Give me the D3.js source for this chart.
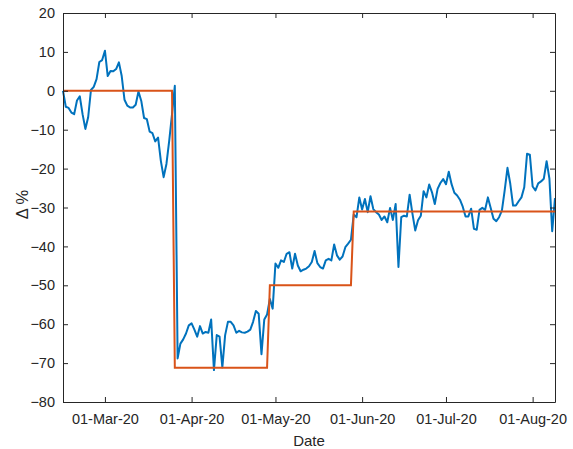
<!DOCTYPE html>
<html>
<head>
<meta charset="utf-8">
<script src="https://d3js.org/d3.v7.min.js"></script>
<style>
  body { margin: 0; background: #fff; }
  text { font-family: "Liberation Sans", Arial, sans-serif; fill: #262626; }
</style>
</head>
<body>
<div id="chart"></div>
<script>
// daily series, first value on 15-Feb-2020
var blueStart = "2020-02-15";
var blueValues = [
  0, -4.1, -4.4, -5.6, -6, -2.5, -1.4, -6, -9.8, -6.8,
  0.2, 1, 3, 7.4, 7.9, 10.3, 3.8, 5.1, 5, 5.6,
  7.3, 3.8, -2.3, -3.8, -4.3, -4.3, -3.6, -0.2, -2.6, -7,
  -7.3, -10.5, -10.9, -13, -12, -18, -22.2, -18.8, -12.8, -6,
  1.3, -68.8, -65, -63.9, -62.4, -60.3, -59.8, -61.4, -63.2, -60.5,
  -62.4, -62, -62.2, -58.8, -71.8, -62.8, -63.2, -71.1, -62.8, -59.4,
  -59.4, -60.3, -62.2, -61.7, -62.1, -62.2, -61.9, -61.4, -59.4, -56.6,
  -57.3, -67.7, -58.8, -57.5, -53.5, -56, -44.4, -45.5, -43.6, -44,
  -41.9, -41.5, -45.7, -41.9, -44.9, -46.4, -46, -45.7, -45.1, -44,
  -41.2, -44.3, -45.3, -45.7, -43.6, -43.2, -43.6, -39.5, -42.3, -43.4,
  -42.6, -40.2, -39.3, -38.3, -31.8, -32.5, -27.4, -30.5, -27.8, -31.2,
  -27.1, -30.4, -31.2, -31.8, -33.2, -32.3, -33.8, -30.1, -33.2, -29.1,
  -45.3, -32.5, -32.1, -32.3, -26.7, -31.6, -35.9, -33.3, -32.1, -25.8,
  -27.4, -24.1, -26.1, -29.1, -25.2, -23.7, -22.7, -24, -20.8, -24,
  -26.2, -26.9, -28, -29.8, -32.3, -32.3, -30.3, -35.5, -35.7, -30.6,
  -30.1, -30.6, -27.4, -30.1, -32.9, -33.5, -32.5, -30.8, -25.6, -19.8,
  -23.9, -29.5, -29.5, -28.4, -27.4, -24.8, -16.2, -16.4, -24.6, -25.6,
  -23.8, -23.3, -22.6, -18.1, -22.6, -36.1, -27.6
];

// step line vertices
var stepDates = ["2020-02-15", "2020-03-25", "2020-03-26", "2020-04-28",
                 "2020-04-29", "2020-05-28", "2020-05-29", "2020-08-09"];
var stepValues = [0, 0, -71.2, -71.2, -50, -50, -31, -31];

var xTickDates = ["2020-03-01", "2020-04-01", "2020-05-01", "2020-06-01", "2020-07-01", "2020-08-01"];
var yTicks = [-80, -70, -60, -50, -40, -30, -20, -10, 0, 10, 20];

var parse = d3.timeParse("%Y-%m-%d");
var fmt = d3.timeFormat("%d-%b-%y");

var width = 573, height = 449;
var margin = {top: 13, right: 18, bottom: 47, left: 63};
var w = width - margin.left - margin.right,
    h = height - margin.top - margin.bottom;

var svg = d3.select("#chart")
  .append("svg")
  .attr("width", width)
  .attr("height", height);

var g = svg.append("g")
  .attr("transform", "translate(" + margin.left + "," + margin.top + ")");

var t0 = parse(blueStart);
var blue = blueValues.map(function(v, i) { return {date: d3.timeDay.offset(t0, i), value: v}; });
var steps = stepDates.map(function(d, i) { return {date: parse(d), value: stepValues[i]}; });

var x = d3.scaleTime()
  .domain([t0, parse(stepDates[stepDates.length - 1])])
  .range([0, w]);

var y = d3.scaleLinear()
  .domain([-80, 20])
  .range([h, 0]);

var line = d3.line()
  .x(function(d) { return x(d.date); })
  .y(function(d) { return y(d.value); });

g.append("path")
  .datum(blue)
  .attr("fill", "none")
  .attr("stroke", "#0072BD")
  .attr("stroke-width", 2)
  .attr("stroke-linejoin", "round")
  .attr("d", line);

g.append("path")
  .datum(steps)
  .attr("fill", "none")
  .attr("stroke", "#D95319")
  .attr("stroke-width", 2)
  .attr("d", line);

// axes, MATLAB style: ticks inside, box on
var xt = xTickDates.map(parse);

var xAxis = g.append("g")
  .attr("transform", "translate(0," + h + ")")
  .call(d3.axisBottom(x).tickValues(xt).tickFormat(fmt).tickSizeInner(-5).tickSizeOuter(0).tickPadding(12));

var xTop = g.append("g")
  .call(d3.axisTop(x).tickValues(xt).tickFormat("").tickSizeInner(-5).tickSizeOuter(0));

var yAxis = g.append("g")
  .call(d3.axisLeft(y).tickValues(yTicks).tickSizeInner(-5).tickSizeOuter(0).tickPadding(8));

var yRight = g.append("g")
  .attr("transform", "translate(" + w + ",0)")
  .call(d3.axisRight(y).tickValues(yTicks).tickFormat("").tickSizeInner(-5).tickSizeOuter(0));

[xAxis, xTop, yAxis, yRight].forEach(function(a) {
  a.select(".domain").attr("stroke", "#262626");
  a.selectAll(".tick line").attr("stroke", "#262626");
  a.selectAll("text").attr("fill", "#262626").style("font-size", "14.5px")
    .attr("font-family", null);
});

svg.append("text")
  .attr("x", margin.left + w / 2)
  .attr("y", 446)
  .attr("text-anchor", "middle")
  .style("font-size", "15px")
  .text("Date");

svg.append("text")
  .attr("transform", "translate(28," + (margin.top + h / 2 - 3) + ") rotate(-90)")
  .attr("text-anchor", "middle")
  .style("font-size", "16.5px")
  .text("Δ %");
</script>
</body>
</html>
